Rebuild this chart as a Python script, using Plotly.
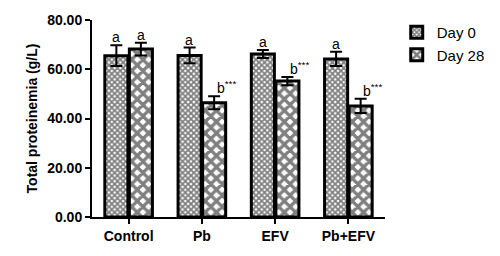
import plotly.graph_objects as go

categories = ["Control", "Pb", "EFV", "Pb+EFV"]
day0 = [65.5, 65.6, 66.2, 64.2]
day0_err = [4.2, 3.2, 1.6, 2.9]
day28 = [68.2, 46.4, 55.2, 45.1]
day28_err = [2.6, 2.6, 1.7, 2.9]
day0_labels = ["a", "a", "a", "a"]
day28_labels = ["a", "b<sup>***</sup>", "b<sup>***</sup>", "b<sup>***</sup>"]
yticks = [0, 20, 40, 60, 80]

FONT = "Liberation Sans, Arial"

fig = go.Figure()
fig.add_trace(go.Bar(
    name="Day 0", x=categories, y=day0,
    error_y=dict(type="data", array=day0_err, symmetric=True, color="black", thickness=2, width=6),
    marker=dict(color="white", line=dict(color="black", width=3),
                pattern=dict(shape="x", fgcolor="black", bgcolor="white", size=4, solidity=0.7, fillmode="overlay")),
))
fig.add_trace(go.Bar(
    name="Day 28", x=categories, y=day28,
    error_y=dict(type="data", array=day28_err, symmetric=True, color="black", thickness=2, width=6),
    marker=dict(color="white", line=dict(color="black", width=3),
                pattern=dict(shape="x", fgcolor="black", bgcolor="white", size=8, solidity=0.65, fillmode="overlay")),
))

for i, c in enumerate(categories):
    fig.add_annotation(x=c, y=day0[i] + day0_err[i], text=day0_labels[i], showarrow=False,
                       xshift=-12.5, yanchor="bottom", yshift=-2,
                       font=dict(family=FONT, size=14, color="black"))
    fig.add_annotation(x=c, y=day28[i] + day28_err[i], text=day28_labels[i], showarrow=False,
                       xshift=13 if i > 0 else 12.5, yanchor="bottom", yshift=-2,
                       xanchor="center" if i == 0 else "left",
                       font=dict(family=FONT, size=14, color="black"))

fig.update_layout(
    width=492, height=248,
    margin=dict(l=84, r=115, t=12, b=39, autoexpand=False),
    plot_bgcolor="white", paper_bgcolor="white",
    barmode="group", bargap=0.33, bargroupgap=0.06,
    font=dict(family=FONT, color="black"),
    showlegend=True,
    legend=dict(x=1.04, y=1.02, xanchor="left", yanchor="top",
                font=dict(size=15, family=FONT),
                itemwidth=30, tracegroupgap=2),
    xaxis=dict(showline=True, linecolor="black", linewidth=2, ticks="outside",
               ticklen=5, tickwidth=2, tickcolor="black",
               tickfont=dict(size=14, family=FONT, weight="bold"),
               range=[-0.5, 3.5]),
    yaxis=dict(range=[0, 80], tickvals=yticks, tickformat=".2f",
               showline=True, linecolor="black", linewidth=2, ticks="outside",
               ticklen=5, tickwidth=2, tickcolor="black", showgrid=False, zeroline=False,
               tickfont=dict(size=14, family=FONT, weight="bold"),
               title=dict(text="<b>Total proteinemia (g/L)</b>", standoff=6,
                          font=dict(size=14, family=FONT))),
)

fig.write_html("out.html")
